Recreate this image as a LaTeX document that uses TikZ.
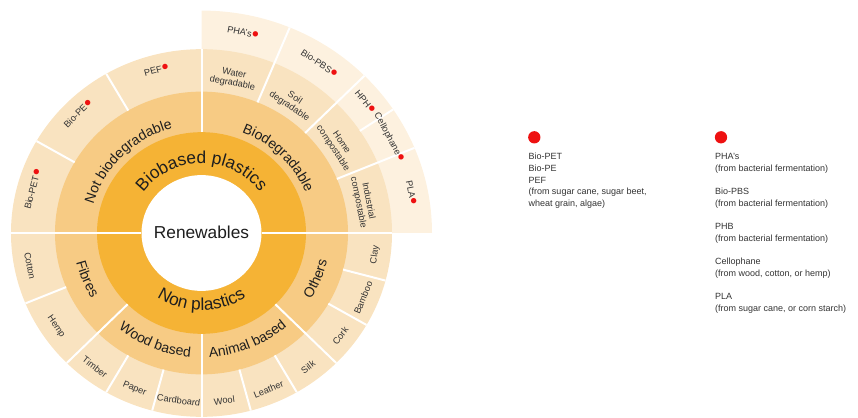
\documentclass[tikz,border=0pt]{standalone}
\usepackage{fontspec}
\setmainfont{Liberation Sans}
\newfontfamily\dejavu{DejaVu Sans}
\usetikzlibrary{decorations.text}

\definecolor{ringA}{HTML}{F5B335}
\definecolor{ringB}{HTML}{F7CB84}
\definecolor{ringC}{HTML}{F9E3C0}
\definecolor{ringD}{HTML}{FDF1DF}
\definecolor{ink}{HTML}{1E1E1E}
\definecolor{labgray}{HTML}{333333}
\definecolor{dotred}{HTML}{EE1111}

% ring radii
\def\Rw{60}
\def\Ra{104.5}
\def\Rb{146.5}
\def\Rc{190.5}
\def\Rd{230.5}

\newcommand\ringAfont{\fontsize{17.3}{17.3}\selectfont\color{ink}}
\newcommand\ringBfont{\fontsize{14}{14}\selectfont\color{ink}}
\newcommand\rdot{\hspace{0.6pt}\raisebox{0.22em}{\dejavu\fontsize{7}{7}\selectfont\textcolor{dotred}{●}}}

\tikzset{
  cutline/.style={draw=white, line width=2pt},
  lab/.style={font=\fontsize{9.2}{10.2}\selectfont, text=labgray, inner sep=0.5pt, align=center},
  legtext/.style={font=\fontsize{9}{11.7}\selectfont, text=labgray, inner sep=0pt, align=left},
  legdot/.style={circle, fill=dotred, minimum size=12.3pt, inner sep=0pt},
}

\begin{document}
\begin{tikzpicture}[x=1pt, y=1pt]
\useasboundingbox (-201.5,-184) rectangle (656.5,233);

\begin{scope}[yscale=0.965]
  % rings
  \fill[ringD] (0,0) -- (0:\Rd) arc[start angle=0, end angle=90, radius=\Rd] -- cycle;
  \fill[ringC] (0,0) circle[radius=\Rc];
  \fill[ringB] (0,0) circle[radius=\Rb];
  \fill[ringA] (0,0) circle[radius=\Ra];
  \fill[white] (0,0) circle[radius=\Rw];

  % white separators
  \draw[cutline] (180:\Rc) -- (180:\Rw);
  \draw[cutline] (0:\Rw) -- (0:\Rc);
  \foreach \a in {90,225,270,315} \draw[cutline] (\a:\Ra) -- (\a:\Rc);
  \foreach \a in {120,150,202.5,240,255,285,300,330,345} \draw[cutline] (\a:\Rb) -- (\a:\Rc);
  \foreach \a in {22.5,45,67.5} \draw[cutline] (\a:\Rb) -- (\a:\Rd);
  \draw[cutline] (33.75:\Rc) -- (33.75:\Rd);

  % inner ring texts along arcs
  \path[decorate, decoration={text along path, text align=center,
      text={|\ringAfont|Biobased plastics}}]
    (180:72) arc[start angle=180, end angle=0, radius=72];
  \path[decorate, decoration={text along path, text align=center,
      text={|\ringAfont|Non plastics}}]
    (180:80) arc[start angle=180, end angle=360, radius=80];

  % second ring texts along arcs
  \path[decorate, decoration={text along path, text align=center,
      text={|\ringBfont|Not biodegradable}}]
    (180:112) arc[start angle=180, end angle=90, radius=112];
  \path[decorate, decoration={text along path, text align=center,
      text={|\ringBfont|Biodegradable}}]
    (90:112) arc[start angle=90, end angle=0, radius=112];
  \path[decorate, decoration={text along path, text align=center,
      text={|\ringBfont|Fibres}}]
    (180:129) arc[start angle=180, end angle=225, radius=129];
  \path[decorate, decoration={text along path, text align=center,
      text={|\ringBfont|Wood based}}]
    (225:129) arc[start angle=225, end angle=270, radius=129];
  \path[decorate, decoration={text along path, text align=center,
      text={|\ringBfont|Animal based}}]
    (270:129) arc[start angle=270, end angle=315, radius=129];
  \path[decorate, decoration={text along path, text align=center,
      text={|\ringBfont|Others}}]
    (315:129) arc[start angle=315, end angle=360, radius=129];

  % third ring, upper left
  \node[lab, rotate=75] (biopet) at (165:175) {Bio-PET\rdot};
  \node[lab, rotate=45] (biope)  at (135:175) {Bio-PE\rdot};
  \node[lab, rotate=15] (pef)    at (105:175) {PEF\rdot};

  % third ring, upper right
  \node[lab, rotate=-11.25] (water) at (78.75:163) {Water\\degradable};
  \node[lab, rotate=-33.75] (soil)  at (56.25:163) {Soil\\degradable};
  \node[lab, rotate=-56.25] (home)  at (33.75:163) {Home\\compostable};
  \node[lab, rotate=-78.75] (indus) at (11.25:165) {Industrial\\compostable};

  % fourth ring
  \node[lab, rotate=-11.25]  (pha)   at (78.75:212) {PHA's\rdot};
  \node[lab, rotate=-33.75]  (pbs)   at (56.25:212) {Bio-PBS\rdot};
  \node[lab, rotate=-50.625] (hph)   at (39.8:213) {HPH\rdot};
  \node[lab, rotate=-61.875] (cello) at (27.9:212) {Cellophane\rdot};
  \node[lab, rotate=-78.75]  (pla)   at (11.25:214) {PLA\rdot};

  % third ring, lower half
  \node[lab, rotate=-78.75] (cotton) at (191.25:175) {Cotton};
  \node[lab, rotate=-56.25] (hemp)   at (213.75:175) {Hemp};
  \node[lab, rotate=-37.5]  (timber) at (232.5:175) {Timber};
  \node[lab, rotate=-22.5]  (paper)  at (247.5:175) {Paper};
  \node[lab, rotate=-7.5]   (card)   at (262.5:175) {Cardboard};
  \node[lab, rotate=7.5]    (wool)   at (277.5:175) {Wool};
  \node[lab, rotate=22.5]   (leather) at (292.5:175) {Leather};
  \node[lab, rotate=37.5]   (silk)   at (307.5:175) {Silk};
  \node[lab, rotate=52.5]   (cork)   at (322.5:175) {Cork};
  \node[lab, rotate=67.5]   (bamboo) at (337.5:175) {Bamboo};
  \node[lab, rotate=82.5]   (clay)   at (352.5:175) {Clay};
\end{scope}

\node[font=\fontsize{17.3}{17.3}\selectfont, text=ink, inner sep=0pt] (renew) at (0,1) {Renewables};

% legend
\node[legdot] (dotL) at (332.8,95.7) {};
\node[legtext, anchor=north west] (legL) at (326.8,80)
  {Bio-PET\\Bio-PE\\PEF\\(from sugar cane, sugar beet,\\wheat grain, algae)};
\node[legdot] (dotR) at (519.5,95.7) {};
\node[legtext, anchor=north west] (legR) at (513.5,80)
  {PHA's\\(from bacterial fermentation)\\[11.7pt]
   Bio-PBS\\(from bacterial fermentation)\\[11.7pt]
   PHB\\(from bacterial fermentation)\\[11.7pt]
   Cellophane\\(from wood, cotton, or hemp)\\[11.7pt]
   PLA\\(from sugar cane, or corn starch)};
\end{tikzpicture}
\end{document}
